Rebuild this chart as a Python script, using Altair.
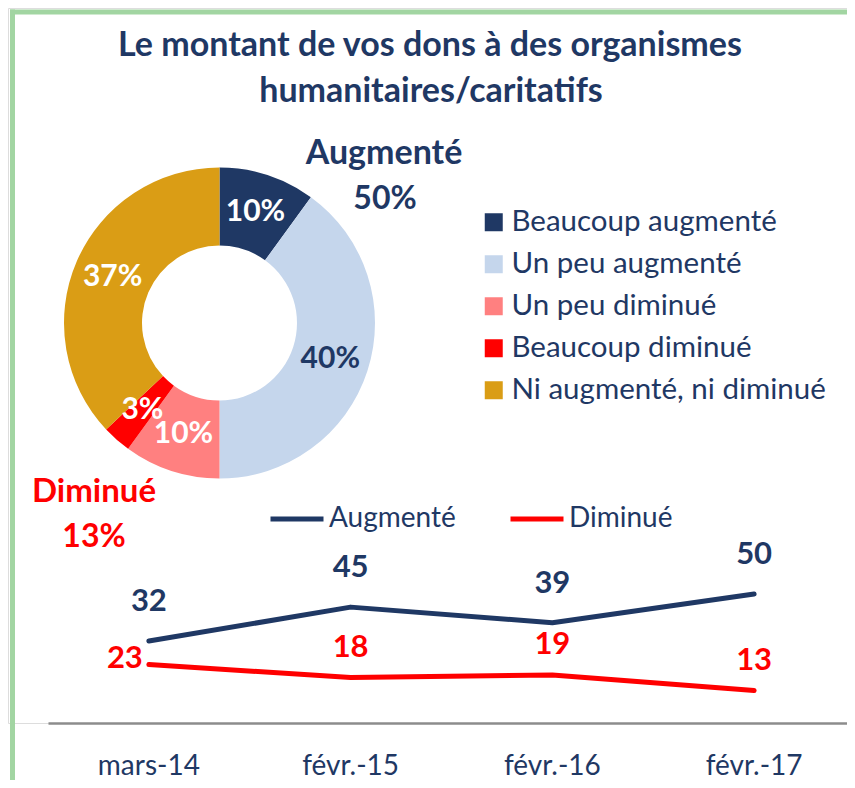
import altair as alt
import pandas as pd

# ---- data ----
categories = ["Beaucoup augmenté", "Un peu augmenté", "Un peu diminué",
              "Beaucoup diminué", "Ni augmenté, ni diminué"]
shares = [10, 40, 10, 3, 37]
cat_colors = ["#1F3864", "#C5D6EC", "#FF8080", "#FF0000", "#DA9D15"]

periods = ["mars-14", "févr.-15", "févr.-16", "févr.-17"]
augmente = [32, 45, 39, 50]
diminue = [23, 18, 19, 13]
series_names = ["Augmenté", "Diminué"]
series_colors = ["#1F3864", "#FF0000"]

title_lines = ["Le montant de vos dons à des organismes", "humanitaires/caritatifs"]
group_up = ["Augmenté", "50%"]
group_down = ["Diminué", "13%"]

NAVY = "#1F3864"
RED = "#FF0000"
GREEN = "#A2D5A2"
FONT = "Lato"
W, H = 839, 715
XEND = 847

donut_df = pd.DataFrame({"cat": categories, "share": shares, "idx": list(range(len(categories)))})
line_df = pd.DataFrame({
    "period": periods * 2,
    "series": [series_names[0]] * len(periods) + [series_names[1]] * len(periods),
    "value": augmente + diminue,
    "pos": list(range(len(periods))) * 2,
})
one = pd.DataFrame({"a": [0]})

CX, CY = 211.5, 315

# frame (top and left edges visible)
frame_top = alt.Chart(one).mark_rule(stroke=GREEN, strokeWidth=5, strokeCap="butt").encode(
    x=alt.value(2), x2=alt.value(W + 40), y=alt.value(4)
)
frame_left = alt.Chart(one).mark_rule(stroke=GREEN, strokeWidth=5, strokeCap="butt").encode(
    x=alt.value(4.5), y=alt.value(1.5), y2=alt.value(H + 200)
)


def label(txt, x, y, size, color, weight="bold"):
    return alt.Chart(one).mark_text(
        text=txt, font=FONT, fontSize=size, fontWeight=weight, color=color,
        align="center", baseline="alphabetic"
    ).encode(x=alt.value(x), y=alt.value(y))


title1 = label(title_lines[0], 422, 47.7, 34, NAVY)
title2 = label(title_lines[1], 423, 93.7, 34, NAVY)
up1 = label(group_up[0], 376, 156, 34, NAVY)
up2 = label(group_up[1], 377, 201, 32, NAVY)
dn1 = label(group_down[0], 86, 494, 33, RED)
dn2 = label(group_down[1], 86, 539, 32, RED)

arc = alt.Chart(donut_df).mark_arc(radius=155.5, innerRadius=77.5).encode(
    theta=alt.Theta("share:Q", stack=True),
    order=alt.Order("idx:Q"),
    color=alt.Color("cat:N", scale=alt.Scale(domain=categories, range=cat_colors),
                    legend=alt.Legend(title=None, orient="none", legendX=471, legendY=199.5,
                                      symbolType="square", symbolSize=324, symbolStrokeWidth=0,
                                      symbolOpacity=1, labelFont=FONT, labelFontSize=29.5,
                                      labelColor=NAVY, rowPadding=11, labelOffset=3,
                                      padding=0, labelLimit=400)),
    x=alt.value(CX), y=alt.value(CY),
)
arc_text = alt.Chart(donut_df).transform_calculate(
    lbl="datum.share + '%'"
).mark_text(radius=116.5, font=FONT, fontSize=30, fontWeight="bold").encode(
    theta=alt.Theta("share:Q", stack=True),
    order=alt.Order("idx:Q"),
    text="lbl:N",
    color=alt.condition(alt.datum.cat == categories[1], alt.value(NAVY), alt.value("white")),
    x=alt.value(CX), y=alt.value(CY),
)

xscale = alt.Scale(type="band", domain=periods, range=[40, XEND], paddingInner=0, paddingOuter=0)
yscale = alt.Scale(domain=[0, 60], range=[716.5, 560])
xax = alt.Axis(title=None, ticks=False, grid=False, domainColor="#8C8C8C", domainWidth=2.5,
               labelFont=FONT, labelFontSize=28, labelColor=NAVY, labelPadding=29, labelAngle=0)

lines = alt.Chart(line_df).mark_line(strokeWidth=5, strokeCap="round", strokeJoin="round").encode(
    x=alt.X("period:N", scale=xscale, axis=xax, sort=periods),
    y=alt.Y("value:Q", scale=yscale, axis=None),
    color=alt.Color("series:N", scale=alt.Scale(domain=series_names, range=series_colors),
                    legend=alt.Legend(title=None, orient="none", direction="horizontal",
                                      legendX=260, legendY=482, symbolType="stroke",
                                      symbolSize=2809, symbolStrokeWidth=5, labelFont=FONT,
                                      labelFontSize=28, labelColor=NAVY, columnPadding=44,
                                      labelOffset=3, padding=0)),
)

base_lbl = alt.Chart(line_df).encode(
    x=alt.X("period:N", scale=xscale, axis=xax, sort=periods),
    y=alt.Y("value:Q", scale=yscale, axis=None),
    text=alt.Text("value:Q"),
)
up_lbl = base_lbl.transform_filter(alt.datum.series == series_names[0]).mark_text(
    font=FONT, fontSize=31, fontWeight="bold", color=NAVY, dy=-39)
dn_lbl = base_lbl.transform_filter(
    (alt.datum.series == series_names[1]) & (alt.datum.pos > 0)
).mark_text(font=FONT, fontSize=31, fontWeight="bold", color=RED, dy=-29.5)
dn_first = base_lbl.transform_filter(
    (alt.datum.series == series_names[1]) & (alt.datum.pos == 0)
).mark_text(font=FONT, fontSize=31, fontWeight="bold", color=RED, dx=-24, dy=-6)

donut_group = alt.layer(arc, arc_text)
line_group = alt.layer(lines, up_lbl, dn_lbl, dn_first)

chart = alt.layer(
    frame_top, frame_left, title1, title2, donut_group, up1, up2, dn1, dn2, line_group
).resolve_scale(color="independent").resolve_legend(color="independent").properties(
    width=W, height=H,
    padding={"left": 0, "top": 0, "right": 0, "bottom": 57},
    autosize=alt.AutoSizeParams(type="none"),
).configure_view(strokeWidth=0).configure(background="white")

chart.save("out.html", embed_options={"renderer": "svg", "actions": False})
